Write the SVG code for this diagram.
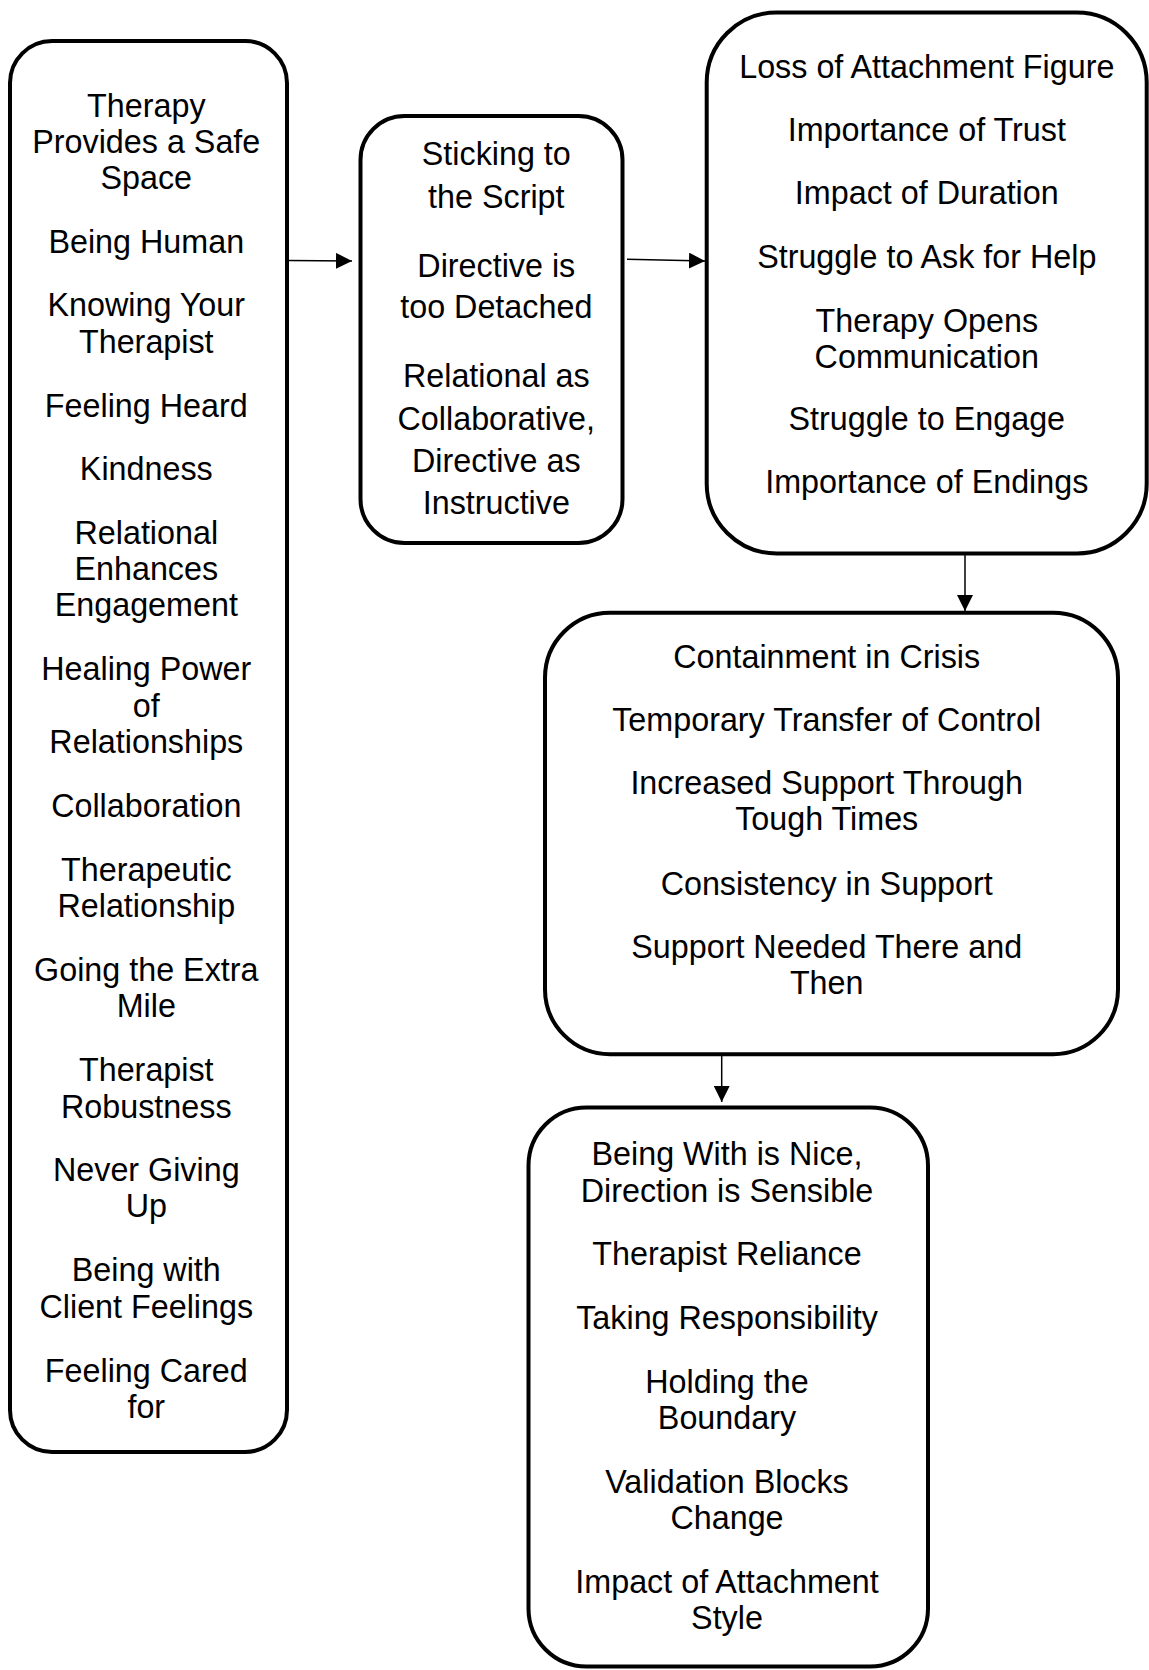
<svg xmlns="http://www.w3.org/2000/svg" width="1149" height="1670" viewBox="0 0 1149 1670">
<style>
.box{fill:#fff;stroke:#000;stroke-width:4}
.t{font-family:"Liberation Sans",Arial,sans-serif;font-size:32.3px;fill:#000;text-anchor:middle}
.c{stroke:#000;stroke-width:1.5;fill:none}
</style>
<defs>
<marker id="ah" viewBox="0 0 10 10" refX="10" refY="5" markerUnits="userSpaceOnUse" markerWidth="16" markerHeight="16" orient="auto">
<path d="M0,0 L10,5 L0,10 Z" fill="#000"/>
</marker>
</defs>
<rect width="1149" height="1670" fill="#fff"/>
<g id="connectors">
<line class="c" x1="289" y1="260.5" x2="352" y2="261" marker-end="url(#ah)"/>
<line class="c" x1="627" y1="259.3" x2="705" y2="261" marker-end="url(#ah)"/>
<line class="c" x1="965" y1="555" x2="965" y2="611" marker-end="url(#ah)"/>
<line class="c" x1="721.7" y1="1056" x2="721.7" y2="1102" marker-end="url(#ah)"/>
</g>
<g id="node1">
<rect class="box" x="10" y="41" width="277" height="1411" rx="42" ry="42"/>
<text class="t" x="146.3" y="116.7">Therapy</text>
<text class="t" x="146.3" y="152.5">Provides a Safe</text>
<text class="t" x="146.3" y="188.5">Space</text>
<text class="t" x="146.3" y="253">Being Human</text>
<text class="t" x="146.3" y="316.3">Knowing Your</text>
<text class="t" x="146.3" y="352.7">Therapist</text>
<text class="t" x="146.3" y="416.7">Feeling Heard</text>
<text class="t" x="146.3" y="480">Kindness</text>
<text class="t" x="146.3" y="543.5">Relational</text>
<text class="t" x="146.3" y="580">Enhances</text>
<text class="t" x="146.3" y="616.3">Engagement</text>
<text class="t" x="146.3" y="680">Healing Power</text>
<text class="t" x="146.3" y="716.7">of</text>
<text class="t" x="146.3" y="753.2">Relationships</text>
<text class="t" x="146.3" y="817">Collaboration</text>
<text class="t" x="146.3" y="880.7">Therapeutic</text>
<text class="t" x="146.3" y="917">Relationship</text>
<text class="t" x="146.3" y="980.8">Going the Extra</text>
<text class="t" x="146.3" y="1017.3">Mile</text>
<text class="t" x="146.3" y="1081">Therapist</text>
<text class="t" x="146.3" y="1117.5">Robustness</text>
<text class="t" x="146.3" y="1180.5">Never Giving</text>
<text class="t" x="146.3" y="1217">Up</text>
<text class="t" x="146.3" y="1281.2">Being with</text>
<text class="t" x="146.3" y="1317.8">Client Feelings</text>
<text class="t" x="146.3" y="1381.5">Feeling Cared</text>
<text class="t" x="146.3" y="1418">for</text>
</g>
<g id="node2">
<rect class="box" x="360.5" y="116" width="262" height="427" rx="44" ry="44"/>
<text class="t" x="496.3" y="165">Sticking to</text>
<text class="t" x="496.3" y="208.3">the Script</text>
<text class="t" x="496.3" y="276.7">Directive is</text>
<text class="t" x="496.3" y="318.3">too Detached</text>
<text class="t" x="496.3" y="387.3">Relational as</text>
<text class="t" x="496.3" y="430">Collaborative,</text>
<text class="t" x="496.3" y="471.7">Directive as</text>
<text class="t" x="496.3" y="514.3">Instructive</text>
</g>
<g id="node3">
<rect class="box" x="706.7" y="12.5" width="440" height="541" rx="70" ry="70"/>
<text class="t" x="926.8" y="78.3">Loss of Attachment Figure</text>
<text class="t" x="926.8" y="140.5">Importance of Trust</text>
<text class="t" x="926.8" y="204">Impact of Duration</text>
<text class="t" x="926.8" y="268">Struggle to Ask for Help</text>
<text class="t" x="926.8" y="331.7">Therapy Opens</text>
<text class="t" x="926.8" y="367.5">Communication</text>
<text class="t" x="926.8" y="430">Struggle to Engage</text>
<text class="t" x="926.8" y="493.3">Importance of Endings</text>
</g>
<g id="node4">
<rect class="box" x="545" y="612.7" width="573" height="441.5" rx="65" ry="65"/>
<text class="t" x="826.7" y="668.3">Containment in Crisis</text>
<text class="t" x="826.7" y="730.7">Temporary Transfer of Control</text>
<text class="t" x="826.7" y="793.5">Increased Support Through</text>
<text class="t" x="826.7" y="830">Tough Times</text>
<text class="t" x="826.7" y="895">Consistency in Support</text>
<text class="t" x="826.7" y="957.5">Support Needed There and</text>
<text class="t" x="826.7" y="994">Then</text>
</g>
<g id="node5">
<rect class="box" x="528.5" y="1107.5" width="399.5" height="559" rx="58" ry="58"/>
<text class="t" x="727" y="1165">Being With is Nice,</text>
<text class="t" x="727" y="1201.7">Direction is Sensible</text>
<text class="t" x="727" y="1265">Therapist Reliance</text>
<text class="t" x="727" y="1329.3">Taking Responsibility</text>
<text class="t" x="727" y="1393.3">Holding the</text>
<text class="t" x="727" y="1428.8">Boundary</text>
<text class="t" x="727" y="1493.3">Validation Blocks</text>
<text class="t" x="727" y="1529.3">Change</text>
<text class="t" x="727" y="1593.3">Impact of Attachment</text>
<text class="t" x="727" y="1628.5">Style</text>
</g>
</svg>
